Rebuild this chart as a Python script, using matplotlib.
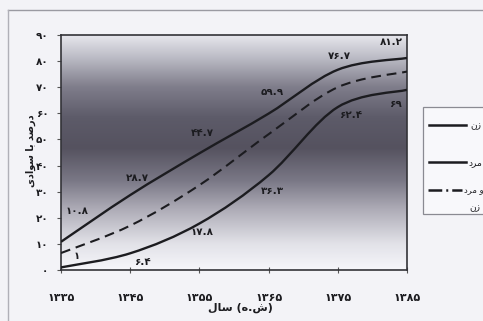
import numpy as np
import matplotlib
matplotlib.use('agg')
import matplotlib.pyplot as plt
from matplotlib.path import Path
from matplotlib.patches import PathPatch, Rectangle
from matplotlib.colors import LinearSegmentedColormap
from matplotlib.lines import Line2D

plt.rcParams['font.family'] = ['DejaVu Sans']

years = [1335, 1345, 1355, 1365, 1375, 1385]
men = [10.8, 28.7, 44.7, 59.9, 76.7, 81.2]
women = [1, 6.4, 17.8, 36.3, 62.4, 69]
total = [6.5, 17, 32.5, 52, 70, 76]
yticks = [0, 10, 20, 30, 40, 50, 60, 70, 80, 90]

# where the value labels sit (data coords), one per point
men_lab_pos = [(1337.3, 22.6), (1346.0, 35.2), (1355.4, 52.5), (1365.5, 68.2), (1375.2, 82.0), (1382.8, 87.4)]
women_lab_pos = [(1337.3, 5.4), (1346.7, 3.1), (1355.4, 14.6), (1365.6, 30.3), (1376.8, 59.5), (1383.4, 63.6)]

# persian strings, already shaped and in visual (left to right) order
ZAN = "\uFEE5\uFEAF"
MARD = "\uFEA9\uFEAE\uFEE3"
MARD_VA = MARD + " \uFEED"
XLAB = "\uFEDD\uFE8E\uFEB3 (\uFEE9.\uFEB5)"
YLAB = "\uFEEF\uFEA9\uFE8D\uFEEE\uFEB3 \uFE8E\uFE91 \uFEAA\uFEBB\uFEAD\uFEA9"

fa = str.maketrans("0123456789", "\u06f0\u06f1\u06f2\u06f3\u06f4\u06f5\u06f6\u06f7\u06f8\u06f9")
def fa_num(v):
    return ('%g' % v).translate(fa)

ink = '#1c1c20'
fs = 7.5


def smooth_path(xs, ys):
    # catmull-rom through the points, drawn as cubic bezier segments
    pts = np.column_stack([np.asarray(xs, float), np.asarray(ys, float)])
    n = len(pts)
    verts = [pts[0]]; codes = [Path.MOVETO]
    for i in range(n - 1):
        p0 = pts[i - 1] if i > 0 else pts[i]
        p1 = pts[i]; p2 = pts[i + 1]
        p3 = pts[i + 2] if i + 2 < n else pts[i + 1]
        verts += [p1 + (p2 - p0) / 6.0, p2 - (p3 - p1) / 6.0, p2]
        codes += [Path.CURVE4] * 3
    return Path(verts, codes)


fig = plt.figure(figsize=(4.83, 3.21), dpi=100)
fig.patch.set_facecolor('#f3f3f7')
# scan frame
fig.add_artist(Line2D([8/483, 1], [1 - 10/321, 1 - 10/321], color='#9a9aa2', lw=1.0))
fig.add_artist(Line2D([8/483, 8/483], [0, 1 - 10/321], color='#b0b0b8', lw=1.0))

ax = fig.add_axes([61/483, 51/321, 346/483, 235/321])

# background gradient
stops = [(0.0, '#f6f6fa'), (0.11, '#e2e2e8'), (0.26, '#adabb6'), (0.38, '#7a7886'),
         (0.52, '#55525f'), (0.65, '#5d5b69'), (0.78, '#7f7d8b'), (0.9, '#b9b9c3'), (1.0, '#e6e6ec')]
cmap = LinearSegmentedColormap.from_list('bg', stops)
grad = np.linspace(0, 1, 256)[:, None]
ax.imshow(grad, cmap=cmap, aspect='auto', origin='lower',
          extent=[years[0], years[-1], 0, 90], zorder=0, interpolation='bilinear')

for series in (men, women):
    ax.add_patch(PathPatch(smooth_path(years, series), fill=False, ec=ink, lw=1.7, zorder=3))
ax.add_patch(PathPatch(smooth_path(years, total), fill=False, ec=ink, lw=1.5,
                       linestyle=(0, (4.7, 2.8)), zorder=3))

for v, (x, y) in zip(men, men_lab_pos):
    ax.text(x, y, fa_num(v), fontsize=fs, fontweight='bold', color=ink, ha='center', va='center', zorder=4)
for v, (x, y) in zip(women, women_lab_pos):
    ax.text(x, y, fa_num(v), fontsize=fs, fontweight='bold', color=ink, ha='center', va='center', zorder=4)

ax.set_xlim(years[0], years[-1])
ax.set_ylim(0, 90)
ax.set_xticks(years)
ax.set_xticklabels([fa_num(y) for y in years], fontsize=8, fontweight='bold', color=ink)
ax.set_yticks(yticks)
ax.set_yticklabels([fa_num(y) for y in yticks], fontsize=7.5, fontweight='bold', color=ink)
ax.tick_params(axis='x', direction='inout', length=5, width=0.8, pad=14, colors='#555')
ax.tick_params(axis='y', direction='out', length=3, width=0.8, pad=6, colors='#555')
for lab in ax.get_xticklabels() + ax.get_yticklabels():
    lab.set_color(ink)
for s in ax.spines.values():
    s.set_color('#333338'); s.set_linewidth(1.2)

fig.text(240/483, 1 - 308/321, XLAB, fontsize=8, fontweight='bold', color=ink, ha='center', va='center')
fig.text(31/483, 1 - 151/321, YLAB, fontsize=7, fontweight='bold', color=ink,
         ha='center', va='center', rotation=90)

# legend box, drawn in pixel-like coords, runs off the right edge
lg = fig.add_axes([423/483, 1 - 215/321, 100/483, 108/321])
lg.set_xlim(423, 523); lg.set_ylim(215, 107)
lg.axis('off')
lg.add_patch(Rectangle((423.5, 107.5), 98, 107, fc='#f8f8fb', ec='#8a8a92', lw=0.9, clip_on=False))
lg.plot([429, 466], [125, 125], color=ink, lw=1.8)
lg.plot([429, 466], [162, 162], color=ink, lw=1.8)
lg.plot([428, 462], [190, 190], color=ink, lw=1.8, linestyle=(0, (5.5, 1.6, 0.8, 1.6)))
lg.text(470, 126, ZAN, fontsize=6.5, color=ink, ha='left', va='center')
lg.text(468, 163, MARD, fontsize=6.5, color=ink, ha='left', va='center')
lg.text(464, 191, MARD_VA, fontsize=6, color=ink, ha='left', va='center')
lg.text(469, 208, ZAN, fontsize=6.5, color=ink, ha='left', va='center')

fig.savefig('out.png', dpi=100, facecolor=fig.get_facecolor())
